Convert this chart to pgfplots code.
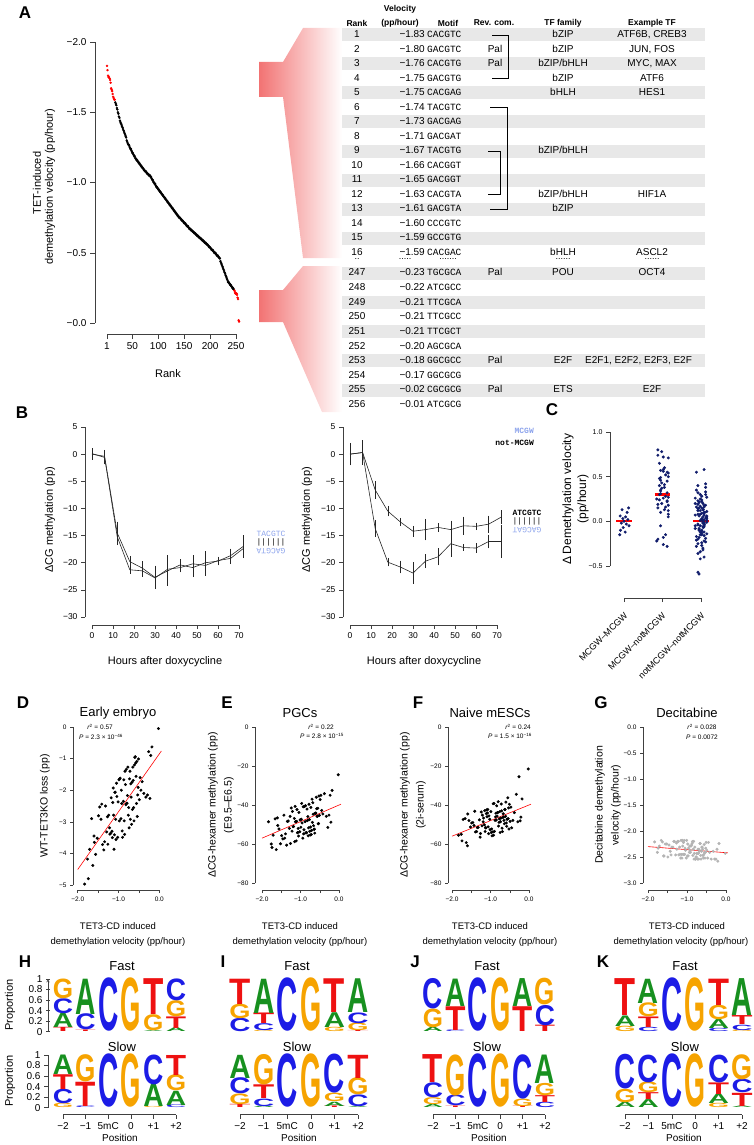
\documentclass[border=0pt]{standalone}
\usepackage{fontspec}
\setmainfont{Liberation Sans}
\setmonofont{Liberation Mono}
\usepackage{graphicx}
\usepackage{pgfplots}
\usepackage{pgfplotstable}
\pgfplotsset{compat=1.18}

\definecolor{navy}{HTML}{101C6B}
\definecolor{seqblue}{HTML}{8DA4EC}
\definecolor{rowgray}{HTML}{E8E8E8}
\definecolor{wedge}{HTML}{F27373}
\definecolor{logoA}{HTML}{17901F}
\definecolor{logoC}{HTML}{1C1CE6}
\definecolor{logoG}{HTML}{F6A300}
\definecolor{logoT}{HTML}{EE1111}
\definecolor{decigray}{HTML}{B4B4B4}

\newcommand\fs[1]{\fontsize{#1}{#1}\selectfont}

\pgfplotsset{
  rstyle/.style={
    scale only axis, anchor=center, clip=false,
    axis lines=left,
    every inner x axis line/.append style={-},
    every inner y axis line/.append style={-},
    every outer x axis line/.append style={-},
    every outer y axis line/.append style={-},
    axis line style={black!75, line width=0.5pt},
    tick align=outside, major tick length=4pt,
    tick style={black!75, line width=0.5pt},
    tick label style={font=\fs{8}},
  },
}

% sequence logo: letter width, table
\newcommand\logoplot[2]{%
\addplot[only marks, mark=*, mark size=0pt, mark options={draw=none, fill=none},
  point meta=explicit symbolic,
  visualization depends on={52.7*\thisrow{h} \as \hh},
  nodes near coords={\resizebox{#1}{\hh pt}{\textcolor{logo\pgfplotspointmeta}{\bfseries\pgfplotspointmeta}}},
  every node near coord/.append style={anchor=south, inner sep=0pt, outer sep=0pt}]
  table[x=x, y=b, meta=L] {#2};}

% velocity vs. other data sets (D-G)
\pgfplotstableread{
v d e f g
-1.83 -4.97 -48.6 -55.5 -2.21
-1.76 -4.18 -60.0 -55.0 -2.41
-1.74 -4.80 -61.8 -58.4 -2.33
-1.71 -3.87 -55.5 -47.4 -2.29
-1.66 -2.90 -47.1 -47.0 -2.18
-1.63 -4.38 -62.9 -59.3 -2.21
-1.60 -3.45 -46.6 -60.9 -2.48
-1.59 -3.65 -50.5 -44.6 -2.48
-1.56 -4.03 -52.3 -48.0 -2.25
-1.52 -3.52 -59.9 -51.3 -2.25
-1.49 -2.81 -55.7 -49.2 -2.50
-1.46 -2.53 -57.4 -49.0 -2.27
-1.43 -2.92 -45.2 -50.5 -2.39
-1.41 -2.44 -57.0 -43.2 -2.46
-1.39 -3.72 -54.8 -53.8 -2.31
-1.36 -3.89 -60.6 -53.6 -2.31
-1.34 -3.63 -48.4 -51.6 -2.20
-1.32 -2.50 -48.2 -51.5 -2.20
-1.29 -3.32 -52.0 -47.6 -2.46
-1.27 -2.84 -45.8 -56.5 -2.23
-1.26 -3.71 -59.7 -54.6 -2.35
-1.24 -2.79 -41.5 -43.6 -2.20
-1.22 -3.19 -53.4 -50.7 -2.20
-1.21 -3.39 -43.3 -45.2 -2.46
-1.19 -3.36 -51.1 -48.6 -2.31
-1.18 -2.24 -51.0 -46.7 -2.45
-1.16 -3.30 -46.9 -50.2 -2.52
-1.15 -3.50 -58.8 -42.9 -2.18
-1.14 -2.39 -40.7 -53.6 -2.45
-1.13 -1.93 -48.6 -51.7 -2.52
-1.12 -2.79 -48.5 -51.7 -2.18
-1.11 -3.87 -58.4 -44.4 -2.29
-1.10 -3.41 -48.4 -42.5 -2.45
-1.09 -2.07 -42.3 -46.0 -2.22
-1.08 -2.06 -54.2 -44.1 -2.45
-1.07 -2.92 -54.1 -42.3 -2.18
-1.06 -3.56 -52.0 -51.2 -2.45
-1.05 -1.78 -55.9 -54.7 -2.33
-1.04 -2.20 -43.8 -45.6 -2.37
-1.02 -3.49 -53.7 -47.3 -2.52
-1.01 -2.37 -47.6 -52.6 -2.18
-0.99 -1.67 -51.4 -43.4 -2.48
-0.98 -2.97 -47.3 -54.1 -2.25
-0.97 -1.64 -39.2 -52.3 -2.48
-0.96 -1.62 -49.2 -55.8 -2.33
-0.94 -2.90 -57.0 -53.8 -2.41
-0.93 -2.00 -40.9 -39.3 -2.29
-0.92 -2.42 -54.8 -55.5 -2.37
-0.91 -3.29 -52.7 -39.2 -2.41
-0.90 -3.49 -40.7 -53.5 -2.29
-0.88 -2.35 -48.5 -47.9 -2.27
-0.87 -1.67 -40.4 -46.1 -2.24
-0.86 -2.97 -54.3 -44.2 -2.20
-0.85 -3.40 -54.2 -47.7 -2.47
-0.84 -1.40 -54.1 -40.4 -2.35
-0.83 -1.82 -42.1 -45.7 -2.20
-0.82 -2.46 -48.0 -43.9 -2.54
-0.81 -1.34 -45.9 -43.8 -2.43
-0.80 -2.42 -55.8 -38.3 -2.31
-0.79 -2.41 -51.7 -50.8 -2.54
-0.78 -2.17 -39.6 -48.9 -2.54
-0.77 -1.27 -47.5 -47.1 -2.50
-0.76 -2.79 -53.5 -43.4 -2.50
-0.75 -2.55 -55.4 -54.1 -2.43
-0.74 -3.19 -51.3 -48.6 -2.43
-0.73 -1.64 -41.2 -46.7 -2.54
-0.72 -1.40 -55.1 -39.5 -2.35
-0.71 -2.92 -53.0 -43.0 -2.43
-0.70 -1.80 -37.0 -51.9 -2.54
-0.69 -2.22 -48.9 -53.6 -2.35
-0.68 -3.08 -38.8 -46.3 -2.39
-0.67 -1.75 -44.7 -44.5 -2.24
-0.66 -2.61 -50.6 -46.2 -2.24
-0.65 -1.27 -52.5 -47.9 -2.47
-0.64 -1.69 -52.4 -49.6 -2.54
-0.63 -2.55 -54.4 -42.3 -2.39
-0.62 -2.97 -44.3 -42.3 -2.31
-0.61 -1.20 -44.2 -45.8 -2.31
-0.60 -0.96 -44.1 -38.5 -2.35
-0.59 -0.94 -36.0 -49.2 -2.47
-0.58 -1.14 -41.9 -50.9 -2.52
-0.57 -1.56 -45.8 -47.3 -2.45
-0.56 -2.42 -45.8 -47.2 -2.26
-0.55 -1.09 -41.7 -36.3 -2.41
-0.54 -2.83 -49.6 -47.0 -2.52
-0.53 -2.15 -49.5 -41.5 -2.41
-0.52 -1.91 -35.4 -52.3 -2.33
-0.51 -1.01 -45.3 -39.6 -2.22
-0.49 -2.30 -37.2 -48.4 -2.37
-0.47 -1.60 -35.0 -41.1 -2.52
-0.45 -2.00 -42.8 -51.7 -2.22
-0.42 -1.73 -44.6 -47.9 -2.41
-0.38 -2.10 -34.2 -43.9 -2.54
-0.33 -2.22 -45.8 -34.5 -2.39
-0.29 -2.15 -51.5 -48.6 -2.54
-0.26 -0.78 -45.2 -25.5 -2.54
-0.23 -2.26 -35.0 -48.1 -2.35
-0.21 -0.90 -48.8 -46.2 -2.58
-0.18 -0.63 -32.5 -36.9 -2.24
-0.02 -0.05 -24.5 -21.5 -2.43
}\tabDG

% B: time courses
\pgfplotstableread{
t v e
0 0.0 0.8
6 -0.4 0.9
12 -14.5 1.8
18 -19.8 0.8
24 -21.0 1.0
30 -22.7 1.9
36 -21.5 2.5
42 -20.4 0.8
48 -20.9 1.5
54 -20.0 1.8
60 -19.7 0.5
66 -18.7 1.0
72 -17.0 1.8
}\tabBa
\pgfplotstableread{
t v e
0 0.1 0.7
6 -0.6 1.0
12 -15.2 1.3
18 -21.3 0.5
24 -21.5 0.8
30 -22.8 1.6
36 -21.2 2.3
42 -20.9 0.6
48 -20.2 1.3
54 -20.5 1.6
60 -19.6 0.4
66 -19.2 0.8
72 -17.4 1.5
}\tabBb
\pgfplotstableread{
t v e
0 0.0 1.8
6 0.3 2.0
12 -6.6 1.3
18 -10.5 0.7
24 -12.5 0.5
30 -14.2 0.7
36 -13.9 1.7
42 -13.5 0.5
48 -13.9 1.4
54 -13.2 1.4
60 -13.3 0.4
66 -12.9 1.3
72 -11.6 1.0
}\tabBc
\pgfplotstableread{
t v e
0 0.0 1.0
6 0.3 1.2
12 -13.7 1.3
18 -19.9 0.5
24 -20.8 0.9
30 -21.9 1.7
36 -19.7 1.0
42 -18.9 1.3
48 -16.5 2.1
54 -17.2 0.3
60 -17.3 0.6
66 -16.1 1.0
72 -16.1 2.8
}\tabBd

% logos
\pgfplotstableread{
x b h L
1 0 0.08 T
1 0.08 0.27 A
1 0.35 0.28 C
1 0.63 0.37 G
2 0 0.03 T
2 0.03 0.30 C
2 0.33 0.67 A
3 0 1 C
4 0 1 G
5 0 0.02 A
5 0.02 0.30 G
5 0.32 0.68 T
6 0 0.07 A
6 0.07 0.22 T
6 0.29 0.30 G
6 0.59 0.41 C
}\tabHF
\pgfplotstableread{
x b h L
1 0 0.08 G
1 0.08 0.27 C
1 0.35 0.28 T
1 0.63 0.37 A
2 0 0.03 C
2 0.03 0.46 T
2 0.49 0.51 G
3 0 1 C
4 0 1 G
5 0 0.02 G
5 0.02 0.42 A
5 0.44 0.56 C
6 0 0.05 C
6 0.05 0.27 A
6 0.32 0.30 G
6 0.62 0.38 T
}\tabHS
\pgfplotstableread{
x b h L
1 0 0.25 C
1 0.25 0.27 G
1 0.52 0.48 T
2 0 0.02 G
2 0.02 0.13 C
2 0.15 0.20 T
2 0.35 0.65 A
3 0 1 C
4 0 1 G
5 0 0.08 G
5 0.08 0.28 A
5 0.36 0.64 T
6 0 0.02 T
6 0.02 0.14 G
6 0.16 0.20 C
6 0.36 0.64 A
}\tabIF
\pgfplotstableread{
x b h L
1 0 0.06 T
1 0.06 0.20 G
1 0.26 0.30 C
1 0.56 0.44 A
2 0 0.03 A
2 0.03 0.14 C
2 0.17 0.26 T
2 0.43 0.57 G
3 0 1 C
4 0 1 G
5 0 0.03 T
5 0.03 0.08 A
5 0.11 0.16 G
5 0.27 0.73 C
6 0 0.02 A
6 0.02 0.22 C
6 0.24 0.32 G
6 0.56 0.44 T
}\tabIS
\pgfplotstableread{
x b h L
1 0 0.08 A
1 0.08 0.35 G
1 0.43 0.57 C
2 0 0.03 C
2 0.03 0.45 T
2 0.48 0.52 A
3 0 1 C
4 0 1 G
5 0 0.47 T
5 0.47 0.53 A
6 0 0.12 T
6 0.12 0.38 C
6 0.50 0.50 G
}\tabJF
\pgfplotstableread{
x b h L
1 0 0.06 A
1 0.06 0.13 G
1 0.19 0.28 C
1 0.47 0.53 T
2 0 0.03 T
2 0.03 0.20 C
2 0.23 0.77 G
3 0 1 C
4 0 1 G
5 0 0.03 T
5 0.03 0.14 G
5 0.17 0.83 C
6 0 0.10 C
6 0.10 0.13 T
6 0.23 0.23 G
6 0.46 0.54 A
}\tabJS
\pgfplotstableread{
x b h L
1 0 0.10 G
1 0.10 0.20 A
1 0.30 0.70 T
2 0 0.08 C
2 0.08 0.20 T
2 0.28 0.26 G
2 0.54 0.46 A
3 0 1 C
4 0 1 G
5 0 0.06 C
5 0.06 0.17 A
5 0.23 0.27 G
5 0.50 0.50 T
6 0 0.03 G
6 0.03 0.10 C
6 0.13 0.17 T
6 0.30 0.70 A
}\tabKF
\pgfplotstableread{
x b h L
1 0 0.10 A
1 0.10 0.25 G
1 0.35 0.65 C
2 0 0.15 A
2 0.15 0.13 T
2 0.28 0.20 G
2 0.48 0.52 C
3 0 1 C
4 0 1 G
5 0 0.08 G
5 0.08 0.18 A
5 0.26 0.22 T
5 0.48 0.52 C
6 0 0.03 A
6 0.03 0.25 T
6 0.28 0.25 C
6 0.53 0.47 G
}\tabKS

\newcommand\trow[7]{%
  \node[anchor=center] at (357,#1) {#2};
  \node[anchor=east] at (425,#1) {#3};
  \node[anchor=west, font=\ttfamily\fs{9.5}] at (427,#1) {#4};
  \node at (495,#1) {#5};
  \node at (563,#1) {#6};
  \node at (652,#1) {#7};}

\begin{document}
\begin{tikzpicture}
\useasboundingbox (0,0) rectangle (754pt,-1145pt);

% ---------------- A: zoom wedges, table background
\begin{scope}[x=1pt,y=-1pt]
\shade[left color=wedge, right color=white] (259,62)--(283,62)--(303,28)--(342,28)--(342,258)--(303,258)--(283,97)--(259,97)--cycle;
\shade[left color=wedge, right color=white] (259,290)--(283,290)--(303,266)--(342,266)--(342,412)--(322,412)--(283,322)--(259,322)--cycle;
\foreach \yy in {35,64,93,122,151,180,209,238,273,302.3,331.6,360.9,390.2}
  \fill[rowgray] (342,\yy-6.5) rectangle (705,\yy+6.5);
\end{scope}

% ---------------- A: rank plot
\begin{axis}[rstyle, at={(171.5pt,-182.5pt)}, width=129pt, height=281pt,
  xmin=1, xmax=250, ymin=-2, ymax=0, y dir=reverse,
  axis x line shift=11pt, axis y line shift=12pt,
  xtick={1,50,100,150,200,250}, xticklabels={1,50,100,150,200,250},
  ytick={-2,-1.5,-1,-0.5,0}, yticklabels={−2.0,−1.5,−1.0,−0.5,−0.0},
  tick label style={font=\fs{10}}, major tick length=5pt]
\addplot[only marks, mark=*, mark size=1pt, red] table[header=false, row sep=\\, x expr=\coordindex+1, y index=0] {
-1.83\\ -1.80\\ -1.76\\ -1.75\\ -1.75\\ -1.74\\ -1.73\\ -1.71\\ -1.67\\ -1.66\\ -1.65\\ -1.63\\ -1.61\\ -1.60\\ -1.59\\ -1.59\\
};
\addplot[only marks, mark=*, mark size=1pt, black] table[header=false, row sep=\\, x expr=\coordindex+17, y index=0] {
-1.57\\ -1.56\\ -1.55\\ -1.53\\ -1.52\\ -1.50\\ -1.49\\ -1.47\\ -1.46\\ -1.44\\
-1.43\\ -1.42\\ -1.41\\ -1.40\\ -1.39\\ -1.38\\ -1.37\\ -1.36\\ -1.35\\ -1.34\\ -1.33\\ -1.32\\ -1.30\\ -1.29\\ -1.28\\
-1.27\\ -1.27\\ -1.26\\ -1.25\\ -1.24\\ -1.24\\ -1.23\\ -1.22\\ -1.21\\ -1.21\\ -1.20\\ -1.19\\ -1.19\\ -1.18\\ -1.17\\ -1.17\\ -1.16\\ -1.16\\ -1.15\\ -1.15\\
-1.14\\ -1.14\\ -1.13\\ -1.13\\ -1.12\\ -1.12\\ -1.11\\ -1.11\\ -1.10\\ -1.10\\ -1.09\\ -1.09\\ -1.08\\ -1.08\\ -1.08\\ -1.07\\ -1.07\\ -1.06\\ -1.06\\ -1.06\\ -1.05\\ -1.05\\ -1.05\\
-1.04\\ -1.04\\ -1.03\\ -1.02\\ -1.02\\ -1.01\\ -1.00\\ -1.00\\ -0.99\\ -0.99\\ -0.98\\ -0.97\\ -0.97\\ -0.96\\ -0.96\\ -0.95\\ -0.95\\ -0.94\\ -0.94\\
-0.93\\ -0.93\\ -0.92\\ -0.92\\ -0.91\\ -0.91\\ -0.90\\ -0.90\\ -0.89\\ -0.89\\ -0.88\\ -0.88\\ -0.87\\ -0.87\\ -0.86\\ -0.86\\ -0.85\\ -0.85\\ -0.84\\ -0.84\\ -0.83\\ -0.83\\ -0.82\\
-0.82\\ -0.81\\ -0.81\\ -0.80\\ -0.80\\ -0.79\\ -0.79\\ -0.78\\ -0.78\\ -0.77\\ -0.77\\ -0.76\\ -0.76\\ -0.75\\ -0.75\\ -0.75\\ -0.74\\ -0.74\\ -0.73\\ -0.73\\
-0.73\\ -0.72\\ -0.72\\ -0.71\\ -0.71\\ -0.71\\ -0.70\\ -0.70\\ -0.69\\ -0.69\\ -0.69\\ -0.68\\ -0.68\\ -0.67\\ -0.67\\ -0.67\\ -0.66\\ -0.66\\ -0.66\\ -0.65\\ -0.65\\
-0.65\\ -0.64\\ -0.64\\ -0.64\\ -0.63\\ -0.63\\ -0.63\\ -0.62\\ -0.62\\ -0.62\\ -0.61\\ -0.61\\ -0.61\\ -0.60\\ -0.60\\ -0.60\\ -0.59\\ -0.59\\ -0.59\\ -0.58\\ -0.58\\ -0.58\\ -0.57\\ -0.57\\ -0.57\\ -0.56\\ -0.56\\
-0.56\\ -0.55\\ -0.55\\ -0.54\\ -0.54\\ -0.54\\ -0.53\\ -0.53\\ -0.52\\ -0.52\\ -0.52\\ -0.51\\ -0.51\\ -0.50\\ -0.50\\ -0.50\\ -0.49\\ -0.49\\ -0.48\\ -0.48\\ -0.48\\ -0.47\\ -0.47\\ -0.46\\ -0.46\\
-0.44\\ -0.43\\ -0.42\\ -0.41\\ -0.40\\ -0.39\\ -0.38\\ -0.37\\ -0.36\\ -0.35\\ -0.34\\ -0.33\\ -0.32\\ -0.31\\ -0.30\\ -0.29\\
-0.29\\ -0.28\\ -0.28\\ -0.27\\ -0.27\\ -0.26\\ -0.26\\ -0.25\\ -0.25\\ -0.24\\ -0.24\\
};
\addplot[only marks, mark=*, mark size=1pt, red] table[header=false, row sep=\\, x expr=\coordindex+247, y index=0] {
-0.23\\ -0.22\\ -0.21\\ -0.21\\ -0.21\\ -0.20\\ -0.18\\ -0.17\\ -0.02\\ -0.01\\
};
\end{axis}

% ---------------- B: left
\begin{axis}[rstyle, at={(165.5pt,-522pt)}, width=147pt, height=190pt,
  xmin=0, xmax=70, ymin=-30, ymax=5,
  axis x line shift=8pt, axis y line shift=7pt,
  xtick={0,10,...,70}, xticklabels={0,10,20,30,40,50,60,70},
  ytick={-30,-25,...,5}, yticklabels={−30,−25,−20,−15,−10,−5,0,5},
  tick label style={font=\fs{8.5}}]
\addplot[black!85, line width=0.6pt, error bars/.cd, y dir=both, y explicit, error bar style={line width=0.4pt}, error mark options={line width=0.4pt, mark size=1.5pt}] table[x=t, y=v, y error=e] {\tabBa};
\addplot[black!85, line width=0.6pt, error bars/.cd, y dir=both, y explicit, error bar style={line width=0.4pt}, error mark options={line width=0.4pt, mark size=1.5pt}] table[x=t, y=v, y error=e] {\tabBb};
\end{axis}

% ---------------- B: right
\begin{axis}[rstyle, at={(423.5pt,-522pt)}, width=147pt, height=190pt,
  xmin=0, xmax=70, ymin=-30, ymax=5,
  axis x line shift=8pt, axis y line shift=7pt,
  xtick={0,10,...,70}, xticklabels={0,10,20,30,40,50,60,70},
  ytick={-30,-25,...,5}, yticklabels={−30,−25,−20,−15,−10,−5,0,5},
  tick label style={font=\fs{8.5}}]
\addplot[black!85, line width=0.6pt, error bars/.cd, y dir=both, y explicit, error bar style={line width=0.4pt}, error mark options={line width=0.4pt, mark size=1.5pt}] table[x=t, y=v, y error=e] {\tabBc};
\addplot[black!85, line width=0.6pt, error bars/.cd, y dir=both, y explicit, error bar style={line width=0.4pt}, error mark options={line width=0.4pt, mark size=1.5pt}] table[x=t, y=v, y error=e] {\tabBd};
\end{axis}

% ---------------- C
\begin{axis}[rstyle, at={(662.5pt,-499pt)}, width=77pt, height=134pt,
  xmin=1, xmax=3, ymin=-0.5, ymax=1,
  axis x line shift=32pt, axis y line shift=14pt,
  xtick={1,2,3}, xticklabels={,,},
  ytick={-0.5,0,0.5,1}, yticklabels={−0.5,0.0,0.5,1.0},
  tick label style={font=\fs{7}}]
\addplot[only marks, mark=*, mark size=1.3pt, navy] coordinates {
(0.95,0.13)(1.08,0.10)(1.12,0.15)(0.90,0.06)(1.04,0.05)(0.97,0.03)(1.10,0.02)(1.00,0.00)
(0.93,-0.02)(1.06,-0.03)(1.13,-0.05)(0.98,-0.07)(0.91,-0.10)(1.03,-0.12)(0.89,-0.15)};
\addplot[only marks, mark=*, mark size=1.3pt, navy] coordinates {
(1.88,0.80)(1.98,0.78)(1.88,0.74)(2.02,0.72)(2.15,0.71)(1.92,0.65)(2.05,0.60)(2.02,0.58)
(1.95,0.57)(2.02,0.56)(2.12,0.55)(2.15,0.54)(2.08,0.52)(2.15,0.50)(1.95,0.49)(1.92,0.48)
(1.95,0.46)(2.12,0.45)(1.98,0.43)(2.05,0.41)(1.92,0.40)(2.05,0.38)(1.98,0.37)(1.95,0.35)
(1.95,0.34)(2.12,0.32)(1.95,0.31)(1.92,0.30)(2.08,0.28)(2.15,0.27)(2.02,0.26)(1.85,0.25)
(1.92,0.24)(2.12,0.23)(2.12,0.22)(1.98,0.20)(1.88,0.19)(2.15,0.18)(2.08,0.16)(1.88,0.15)
(2.05,0.13)(2.15,0.12)(1.95,0.10)(2.15,0.08)(2.15,0.05)(1.95,-0.05)(2.08,-0.15)(2.02,-0.18)
(1.88,-0.20)(1.85,-0.22)(2.02,-0.26)(2.12,-0.28)};
\addplot[only marks, mark=*, mark size=1.3pt, navy] coordinates {
(3.08,0.58)(2.88,0.55)(3.12,0.42)(2.92,0.40)(3.12,0.38)(2.88,0.35)(3.12,0.33)(2.92,0.32)(3.12,0.30)(2.98,0.30)
(3.02,0.28)(3.15,0.27)(2.85,0.26)(2.98,0.25)(3.02,0.24)(2.92,0.23)(2.95,0.22)(3.02,0.22)(2.95,0.21)(3.05,0.20)
(2.85,0.20)(2.92,0.19)(3.12,0.18)(3.08,0.18)(2.98,0.17)(3.08,0.16)(2.88,0.16)(2.95,0.15)(3.02,0.15)(2.92,0.14)
(3.05,0.13)(3.06,0.13)(2.92,0.12)(2.98,0.12)(3.15,0.11)(3.08,0.10)(3.09,0.10)(3.02,0.09)(3.08,0.09)(2.92,0.08)
(2.98,0.08)(3.08,0.07)(2.85,0.07)(3.15,0.06)(2.95,0.06)(3.05,0.05)(3.15,0.05)(3.14,0.04)(3.13,0.04)(3.02,0.03)
(3.15,0.03)(3.02,0.02)(3.08,0.02)(2.98,0.01)(3.15,0.01)(3.05,0.00)(3.06,0.00)(3.15,-0.01)(3.05,-0.01)(3.08,-0.02)
(3.05,-0.02)(2.92,-0.03)(3.08,-0.03)(3.09,-0.04)(2.92,-0.04)(2.98,-0.05)(2.85,-0.05)(3.08,-0.06)(3.05,-0.06)(3.06,-0.07)
(2.95,-0.08)(2.85,-0.08)(2.95,-0.09)(3.02,-0.10)(2.95,-0.10)(3.02,-0.11)(2.98,-0.12)(3.08,-0.12)(3.02,-0.13)(3.15,-0.14)
(2.98,-0.15)(3.02,-0.15)(3.08,-0.16)(2.88,-0.17)(2.95,-0.18)(3.12,-0.19)(2.92,-0.20)(2.88,-0.21)(3.08,-0.22)(3.12,-0.23)
(3.02,-0.24)(2.92,-0.25)(3.02,-0.27)(2.88,-0.28)(3.05,-0.30)(3.05,-0.32)(2.98,-0.34)(2.92,-0.36)(3.08,-0.40)(2.98,-0.42)
(2.92,-0.57)(2.95,-0.59)};
\addplot[red, line width=2.2pt] coordinates {(0.8,0)(1.2,0)};
\addplot[red, line width=2.2pt] coordinates {(1.8,0.3)(2.2,0.3)};
\addplot[red, line width=2.2pt] coordinates {(2.8,0)(3.2,0)};
\end{axis}

% ---------------- D
\begin{axis}[rstyle, at={(118.5pt,-806pt)}, width=81.6pt, height=158pt,
  xmin=-2, xmax=0, ymin=-5, ymax=0,
  axis x line shift=5pt, axis y line shift=4.7pt, major tick length=3pt,
  xtick={-2,-1.5,-1,-0.5,0}, xticklabels={−2.0,,−1.0,,0.0},
  ytick={-5,-4,...,0}, yticklabels={−5,−4,−3,−2,−1,0},
  tick label style={font=\fs{6.5}}]
\addplot[only marks, mark=*, mark size=1.3pt, black] table[x=v, y=d] {\tabDG};
\addplot[red, line width=0.6pt] coordinates {(-2,-4.51)(0.05,-0.76)};
\end{axis}

% ---------------- E
\begin{axis}[rstyle, at={(300.5pt,-805pt)}, width=77pt, height=156pt,
  xmin=-2, xmax=0, ymin=-80, ymax=0,
  axis x line shift=7pt, axis y line shift=7pt, major tick length=3pt,
  xtick={-2,-1.5,-1,-0.5,0}, xticklabels={−2.0,,−1.0,,0.0},
  ytick={-80,-60,...,0}, yticklabels={−80,−60,−40,−20,0},
  tick label style={font=\fs{6.5}}]
\addplot[only marks, mark=*, mark size=1.3pt, black] table[x=v, y=e] {\tabDG};
\addplot[red, line width=0.6pt] coordinates {(-2,-57)(0.05,-39.6)};
\end{axis}

% ---------------- F
\begin{axis}[rstyle, at={(490.5pt,-805pt)}, width=77pt, height=156pt,
  xmin=-2, xmax=0, ymin=-80, ymax=0,
  axis x line shift=7pt, axis y line shift=4pt, major tick length=3pt,
  xtick={-2,-1.5,-1,-0.5,0}, xticklabels={−2.0,,−1.0,,0.0},
  ytick={-80,-60,...,0}, yticklabels={−80,−60,−40,−20,0},
  tick label style={font=\fs{6.5}}]
\addplot[only marks, mark=*, mark size=1.3pt, black] table[x=v, y=f] {\tabDG};
\addplot[red, line width=0.6pt] coordinates {(-2,-56)(0.05,-39.6)};
\end{axis}

% ---------------- G
\begin{axis}[rstyle, at={(687pt,-805pt)}, width=78pt, height=156pt,
  xmin=-2, xmax=0, ymin=-3, ymax=0,
  axis x line shift=7pt, axis y line shift=5pt, major tick length=3pt,
  xtick={-2,-1.5,-1,-0.5,0}, xticklabels={−2.0,,−1.0,,0.0},
  ytick={-3,-2.5,...,0}, yticklabels={−3.0,−2.5,−2.0,−1.5,−1.0,−0.5,0.0},
  tick label style={font=\fs{6.5}}]
\addplot[only marks, mark=*, mark size=1.3pt, decigray] table[x=v, y=g] {\tabDG};
\addplot[red, line width=0.6pt] coordinates {(-2,-2.30)(0.05,-2.42)};
\end{axis}

% ---------------- H
\begin{axis}[rstyle, at={(119.5pt,-1005.35pt)}, width=113pt, height=52.7pt,
  xmin=1, xmax=6, ymin=0, ymax=1, axis x line=none, axis y line=left, axis y line shift=15pt,
  ytick={0,0.2,0.4,0.6,0.8,1}, yticklabels={0,0.2,0.4,0.6,0.8,1}, tick label style={font=\fs{10}}]
\logoplot{20.3pt}{\tabHF}
\end{axis}
\begin{axis}[rstyle, at={(119.5pt,-1081.35pt)}, width=113pt, height=52.7pt,
  xmin=1, xmax=6, ymin=0, ymax=1, axis y line shift=15pt, axis x line shift=7pt,
  xtick={1,...,6}, xticklabels={−2,−1,5mC,0,+1,+2},
  ytick={0,0.2,0.4,0.6,0.8,1}, yticklabels={0,0.2,0.4,0.6,0.8,1}, tick label style={font=\fs{10}}]
\logoplot{20.3pt}{\tabHS}
\end{axis}

% ---------------- I
\begin{axis}[rstyle, at={(299pt,-1005.35pt)}, width=118pt, height=52.7pt,
  xmin=1, xmax=6, ymin=0, ymax=1, hide axis]
\logoplot{21.2pt}{\tabIF}
\end{axis}
\begin{axis}[rstyle, at={(299pt,-1081.35pt)}, width=118pt, height=52.7pt,
  xmin=1, xmax=6, ymin=0, ymax=1, axis y line=none, axis x line shift=7pt,
  xtick={1,...,6}, xticklabels={−2,−1,5mC,0,+1,+2}, tick label style={font=\fs{10}}]
\logoplot{21.2pt}{\tabIS}
\end{axis}

% ---------------- J
\begin{axis}[rstyle, at={(489pt,-1005.35pt)}, width=112pt, height=52.7pt,
  xmin=1, xmax=6, ymin=0, ymax=1, hide axis]
\logoplot{20.2pt}{\tabJF}
\end{axis}
\begin{axis}[rstyle, at={(489pt,-1081.35pt)}, width=112pt, height=52.7pt,
  xmin=1, xmax=6, ymin=0, ymax=1, axis y line=none, axis x line shift=7pt,
  xtick={1,...,6}, xticklabels={−2,−1,5mC,0,+1,+2}, tick label style={font=\fs{10}}]
\logoplot{20.2pt}{\tabJS}
\end{axis}

% ---------------- K
\begin{axis}[rstyle, at={(683.5pt,-1005.35pt)}, width=117pt, height=52.7pt,
  xmin=1, xmax=6, ymin=0, ymax=1, hide axis]
\logoplot{21pt}{\tabKF}
\end{axis}
\begin{axis}[rstyle, at={(683.5pt,-1081.35pt)}, width=117pt, height=52.7pt,
  xmin=1, xmax=6, ymin=0, ymax=1, axis y line=none, axis x line shift=7pt,
  xtick={1,...,6}, xticklabels={−2,−1,5mC,0,+1,+2}, tick label style={font=\fs{10}}]
\logoplot{21pt}{\tabKS}
\end{axis}

% ---------------- text
\begin{scope}[x=1pt,y=-1pt, every node/.style={inner sep=0pt}]
% table A
\begin{scope}[every node/.style={inner sep=0pt, font=\fs{10}, text height=7.2pt, text depth=1.8pt}]
\trow{35}{1}{−1.83}{CACGTC}{}{bZIP}{ATF6B, CREB3}
\trow{49.5}{2}{−1.80}{GACGTC}{Pal}{bZIP}{JUN, FOS}
\trow{64}{3}{−1.76}{CACGTG}{Pal}{bZIP/bHLH}{MYC, MAX}
\trow{78.5}{4}{−1.75}{GACGTG}{}{bZIP}{ATF6}
\trow{93}{5}{−1.75}{CACGAG}{}{bHLH}{HES1}
\trow{107.5}{6}{−1.74}{TACGTC}{}{}{}
\trow{122}{7}{−1.73}{GACGAG}{}{}{}
\trow{136.5}{8}{−1.71}{GACGAT}{}{}{}
\trow{151}{9}{−1.67}{TACGTG}{}{bZIP/bHLH}{}
\trow{165.5}{10}{−1.66}{CACGGT}{}{}{}
\trow{180}{11}{−1.65}{GACGGT}{}{}{}
\trow{194.5}{12}{−1.63}{CACGTA}{}{bZIP/bHLH}{HIF1A}
\trow{209}{13}{−1.61}{GACGTA}{}{bZIP}{}
\trow{223.5}{14}{−1.60}{CCCGTC}{}{}{}
\trow{238}{15}{−1.59}{GCCGTG}{}{}{}
\trow{252.5}{16}{−1.59}{CACGAC}{}{bHLH}{ASCL2}
\trow{273}{247}{−0.23}{TGCGCA}{Pal}{POU}{OCT4}
\trow{287.7}{248}{−0.22}{ATCGCC}{}{}{}
\trow{302.3}{249}{−0.21}{TTCGCA}{}{}{}
\trow{317}{250}{−0.21}{TTCGCC}{}{}{}
\trow{331.6}{251}{−0.21}{TTCGCT}{}{}{}
\trow{346.3}{252}{−0.20}{AGCGCA}{}{}{}
\trow{360.9}{253}{−0.18}{GGCGCC}{Pal}{E2F}{}
\node[anchor=west] at (585,360.9) {E2F1, E2F2, E2F3, E2F};
\trow{375.6}{254}{−0.17}{GGCGCG}{}{}{}
\trow{390.2}{255}{−0.02}{CGCGCG}{Pal}{ETS}{E2F}
\trow{404.9}{256}{−0.01}{ATCGCG}{}{}{}
\end{scope}
\begin{scope}[every node/.style={inner sep=0pt, font=\fs{9}}]
\node at (357,259) {..};
\node at (405,259) {.....};
\node at (448,259) {.......};
\node at (563,259) {......};
\node at (652,259) {......};
\end{scope}
\begin{scope}[every node/.style={inner sep=0pt, font=\fs{8.5}\bfseries}]
\node at (357,23) {Rank};
\node at (400,9) {Velocity};
\node at (400,23) {(pp/hour)};
\node at (448,23) {Motif};
\node at (494,23) {Rev. com.};
\node at (563,23) {TF family};
\node at (652,23) {Example TF};
\end{scope}
\draw[line width=0.7pt] (492,35)--(508,35)--(508,78.5)--(492,78.5);
\draw[line width=0.7pt] (490,107.5)--(507,107.5)--(507,209)--(490,209);
\draw[line width=0.7pt] (488,151)--(500,151)--(500,194.5)--(488,194.5);

% panel letters
\begin{scope}[every node/.style={inner sep=0pt, font=\fs{17}\bfseries}]
\node at (25,13) {A};
\node at (22,413) {B};
\node at (552,410) {C};
\node at (23,703) {D};
\node at (227,703) {E};
\node at (418,703) {F};
\node at (601,703) {G};
\node at (25,962) {H};
\node at (223,962) {I};
\node at (415,962) {J};
\node at (603,962) {K};
\end{scope}

% A labels
\node[rotate=90, font=\fs{11}] at (37,183) {TET-induced};
\node[rotate=90, font=\fs{11}] at (50,187) {demethylation velocity (pp/hour)};
\node[font=\fs{11}] at (168,374) {Rank};

% B labels
\node[rotate=90, font=\fs{11}] at (50,520) {ΔCG methylation (pp)};
\node[rotate=90, font=\fs{11}] at (307,520) {ΔCG methylation (pp)};
\node[font=\fs{11}] at (165,662) {Hours after doxycycline};
\node[font=\fs{11}] at (424,662) {Hours after doxycycline};
\node[font=\ttfamily\fs{8}, text=seqblue] at (271,534) {TACGTC};
\node[font=\ttfamily\fs{8}] at (271,542.5) {||||||};
\node[font=\ttfamily\fs{8}, text=seqblue, rotate=180] at (271,551) {GACGTA};
\node[font=\ttfamily\bfseries\fs{8}, text=seqblue, anchor=east] at (534,431) {MCGW};
\node[font=\ttfamily\bfseries\fs{8}, anchor=east] at (534,443) {not-MCGW};
\node[font=\ttfamily\bfseries\fs{8}] at (527,513) {ATCGTC};
\node[font=\ttfamily\fs{8}] at (527,521.5) {||||||};
\node[font=\ttfamily\fs{8}, text=seqblue, rotate=180] at (527,530) {GACGAT};

% C labels
\node[rotate=90, font=\fs{12}] at (568,499) {Δ\,Demethylation velocity};
\node[rotate=90, font=\fs{12}] at (583,499) {(pp/hour)};
\node[rotate=45, anchor=east, font=\fs{9}] at (626,614) {MCGW–MCGW};
\node[rotate=45, anchor=east, font=\fs{9}] at (664,614) {MCGW–notMCGW};
\node[rotate=45, anchor=east, font=\fs{9}] at (703,614) {notMCGW–notMCGW};

% D-G labels
\begin{scope}[every node/.style={inner sep=0pt, font=\fs{13}}]
\node at (118,713) {Early embryo};
\node at (300,713) {PGCs};
\node at (490,713) {Naive mESCs};
\node at (687,713) {Decitabine};
\end{scope}
\begin{scope}[every node/.style={inner sep=0pt, font=\fs{6.5}}]
\node at (100,727) {\textit{r}\textsuperscript{2} = 0.57};
\node at (101,737) {\textit{P} = 2.3 × 10\textsuperscript{−46}};
\node at (321,727) {\textit{r}\textsuperscript{2} = 0.22};
\node at (322,736) {\textit{P} = 2.8 × 10\textsuperscript{−15}};
\node at (518,727) {\textit{r}\textsuperscript{2} = 0.24};
\node at (510,736) {\textit{P} = 1.5 × 10\textsuperscript{−16}};
\node at (702,727) {\textit{r}\textsuperscript{2} = 0.028};
\node at (702,737) {\textit{P} = 0.0072};
\end{scope}
\begin{scope}[every node/.style={inner sep=0pt, font=\fs{10.5}, rotate=90}]
\node at (45,806) {WT-TET3KO loss (pp)};
\node at (213,805) {ΔCG-hexamer methylation (pp)};
\node at (229,805) {(E9.5–E6.5)};
\node at (405,805) {ΔCG-hexamer methylation (pp)};
\node at (421,805) {(2i-serum)};
\node at (600,805) {Decitabine demethylation};
\node at (616,805) {velocity (pp/hour)};
\end{scope}
\begin{scope}[every node/.style={inner sep=0pt, font=\fs{9.5}}]
\node at (118,926) {TET3-CD induced};
\node at (118,942) {demethylation velocity (pp/hour)};
\node at (300,926) {TET3-CD induced};
\node at (300,942) {demethylation velocity (pp/hour)};
\node at (490,926) {TET3-CD induced};
\node at (490,942) {demethylation velocity (pp/hour)};
\node at (687,926) {TET3-CD induced};
\node at (681,942) {demethylation velocity (pp/hour)};
\end{scope}

% H-K labels
\begin{scope}[every node/.style={inner sep=0pt, font=\fs{13}}]
\node at (122,966) {Fast};
\node at (297,966) {Fast};
\node at (487,966) {Fast};
\node at (685,966) {Fast};
\node at (122,1047) {Slow};
\node at (297,1047) {Slow};
\node at (487,1047) {Slow};
\node at (685,1047) {Slow};
\end{scope}
\node[rotate=90, font=\fs{11}] at (10,1005) {Proportion};
\node[rotate=90, font=\fs{11}] at (10,1081) {Proportion};
\begin{scope}[every node/.style={inner sep=0pt, font=\fs{10}}]
\node at (120,1138) {Position};
\node at (299,1138) {Position};
\node at (489,1138) {Position};
\node at (684,1138) {Position};
\end{scope}
\end{scope}
\end{tikzpicture}
\end{document}
